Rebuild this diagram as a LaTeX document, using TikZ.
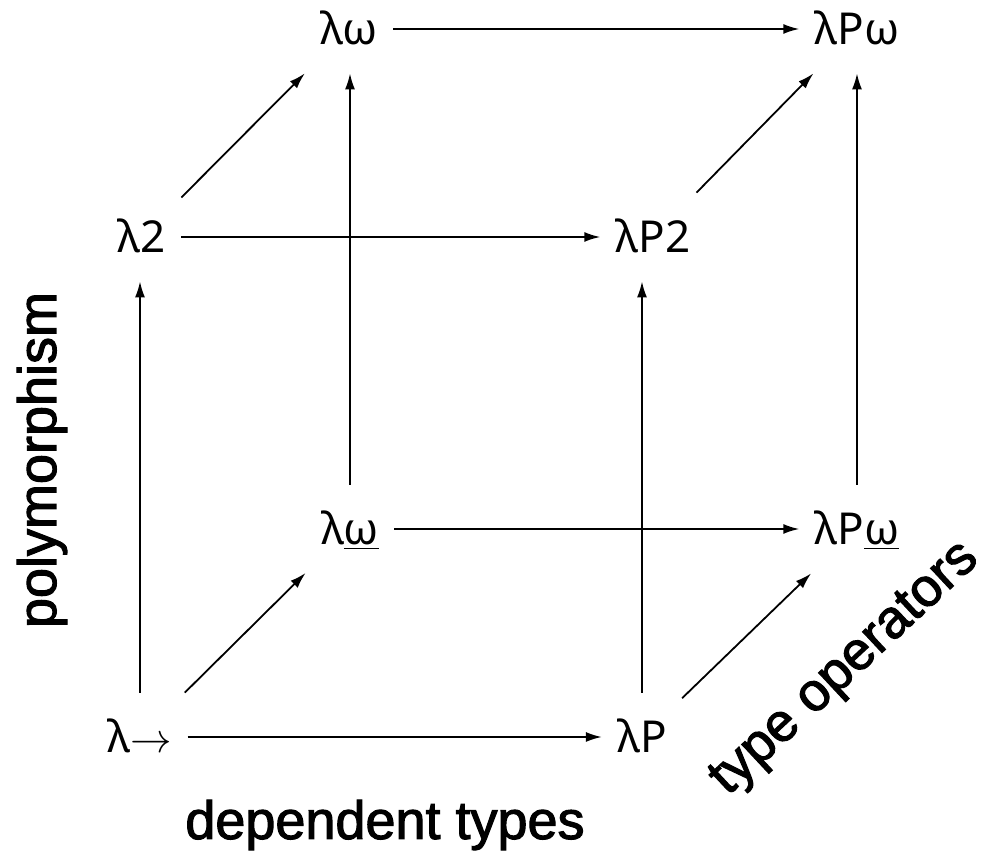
\documentclass[tikz,border=0pt]{standalone}
\usepackage{fontspec}
\newfontfamily\cubefont{Noto Sans}
\newfontfamily\axisfont{Liberation Sans}[FakeBold=2]
\usetikzlibrary{arrows.meta}

\begin{document}
\begin{tikzpicture}[x=0.5pt,y=0.5pt,
  sys/.style={anchor=base, inner xsep=7.5pt, inner ysep=14pt,
    text height=16pt, text depth=0pt,
    font=\cubefont\fontsize{22}{26}\selectfont},
  ext/.style={-{Latex[length=8pt,width=5pt]}, line width=0.9pt},
  axis/.style={font=\axisfont\fontsize{27}{32}\selectfont}]
  \useasboundingbox (0,0) rectangle (982,852);

  % front face
  \node[sys] (lto) at (140,99) {λ$\to$};
  \node[sys] (lP) at (642,99) {λP};
  \node[sys] (l2) at (142,599) {λ2};
  \node[sys] (lP2) at (653,599) {λP2};
  % back face
  \node[sys] (lwu) at (350,307) {λ\underline{ω}};
  \node[sys] (lPwu) at (857,307) {λP\underline{ω}};
  \node[sys] (lw) at (349,807) {λω};
  \node[sys] (lPw) at (857,807) {λPω};

  \foreach \a/\b in {lto/lP, l2/lP2, lwu/lPwu, lw/lPw,
                     lto/lwu, lP/lPwu, l2/lw, lP2/lPw}
    \draw[ext] (\a) -- (\b);
  \foreach \a/\b in {lto/l2, lP/lP2, lwu/lw, lPwu/lPw}
    \draw[ext] (\a.north) -- (\a.north |- \b.south);

  \node[axis, rotate=90] (poly) at (42,392) {polymorphism};
  \node[axis] (dep) at (385,27) {dependent types};
  \node[axis, rotate=43] (tyop) at (846,182) {type operators};
\end{tikzpicture}
\end{document}
